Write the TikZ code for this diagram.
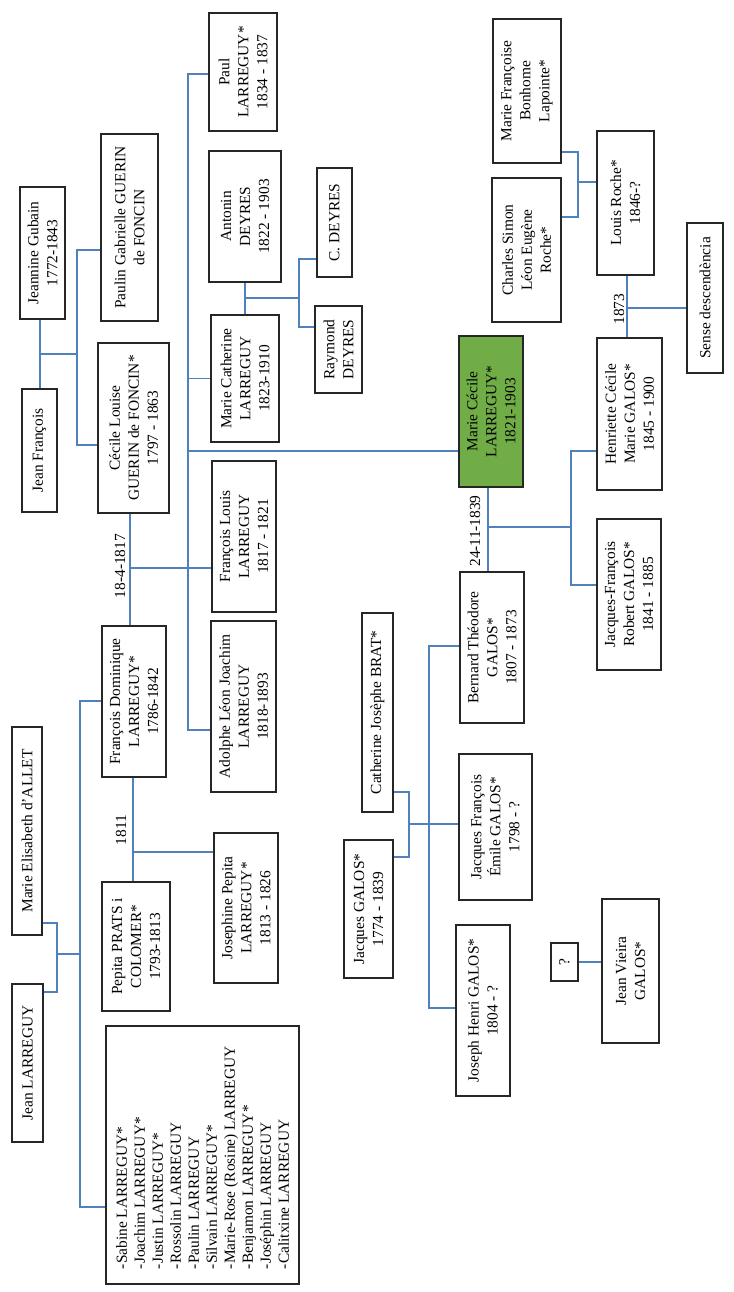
\documentclass[tikz,border=0pt]{standalone}
\usepackage{fontspec}
\setmainfont{Liberation Serif}
\definecolor{linkblue}{HTML}{4F81BD}
\definecolor{boxgreen}{HTML}{70AD47}
\begin{document}
\begin{tikzpicture}[x=1pt,y=-1pt,
  box/.style={draw=black!85, line width=1.3pt, rotate=90, align=center, inner sep=0pt,
    font=\fontsize{15.4}{19}\selectfont},
  sz/.style 2 args={minimum height=#1pt, minimum width=#2pt},
  link/.style={draw=linkblue, line width=1.1pt},
  lbl/.style={rotate=90, inner sep=0pt, font=\fontsize{15.4}{19}\selectfont}]
\fill[white] (0,0) rectangle (733,1292);
\useasboundingbox (0,0) rectangle (733,1292);

% nodes
\node[box, sz={45}{132}] (jeannine) at (42.5,253) {Jeannine Gubain\\1772-1843};
\node[box, sz={57}{187}] (paulin) at (129.5,227.5) {Paulin Gabrielle GUERIN\\de FONCIN};
\node[box, sz={68}{118}] (paul) at (243,72) {Paul\\LARREGUY*\\1834 - 1837};
\node[box, sz={72}{131}] (antonin) at (245,216.5) {Antonin\\DEYRES\\1822 - 1903};
\node[box, sz={35}{109}] (cdeyres) at (334.5,222.5) {C. DEYRES};
\node[box, sz={47}{87}] (raymond) at (338.5,349.5) {Raymond\\DEYRES};
\node[box, sz={68}{127}] (mcath) at (245,378.5) {Marie Catherine\\LARREGUY\\1823-1910};
\node[box, sz={35}{123}] (jeanf) at (39.5,450.5) {Jean François};
\node[box, sz={71}{170}] (cecile) at (133.5,428) {Cécile Louise\\GUERIN de FONCIN*\\1797 - 1863};
\node[box, sz={64}{151}] (flouis) at (244,536.5) {François Louis\\LARREGUY\\1817 - 1821};
\node[box, sz={64}{151}, fill=boxgreen] (mcecile) at (491,411.5) {Marie Cécile\\LARREGUY*\\1821-1903};
\node[box, sz={65}{152}] (henriette) at (629.5,414) {Henriette Cécile\\Marie GALOS*\\1845 - 1900};
\node[box, sz={64}{151}] (jfrobert) at (629,594.5) {Jacques-François\\Robert GALOS*\\1841 - 1885};
\node[box, sz={64}{151}] (bernard) at (492,647.5) {Bernard Théodore\\GALOS*\\1807 - 1873};
\node[box, sz={57}{144}] (louis) at (625.5,203) {Louis Roche*\\1846-?};
\node[box, sz={36}{150}] (sense) at (705,298) {Sense descendència};
\node[box, sz={69}{144}] (charles) at (526.5,250) {Charles Simon\\Léon Eugène\\Roche*};
\node[box, sz={68}{144}] (mfranc) at (527,91) {Marie Françoise\\Bonhome\\Lapointe*};
\node[box, sz={31}{199}] (catherine) at (377.5,712.5) {Catherine Josèphe BRAT*};
\node[box, sz={49}{138}] (jacques) at (368.5,909) {Jacques GALOS*\\1774 - 1839};
\node[box, sz={73}{146}] (jfemile) at (495.5,827) {Jacques François\\Émile GALOS*\\1798 - ?};
\node[box, sz={54}{171}] (joseph) at (483,1010.5) {Joseph Henri GALOS*\\1804 - ?};
\node[box, sz={27}{38}] (q) at (564.5,962) {?};
\node[box, sz={57}{144}] (vieira) at (630.5,971) {Jean Vieira\\GALOS*};
\node[box, sz={30}{208}] (melisa) at (27,831) {Marie Elisabeth d'ALLET};
\node[box, sz={31}{158}] (jeanl) at (27.5,1063) {Jean LARREGUY};
\node[box, sz={64}{151}] (fdom) at (134,701.5) {François Dominique\\LARREGUY*\\1786-1842};
\node[box, sz={68}{129}] (pepita) at (136,946.5) {Pepita PRATS i\\COLOMER*\\1793-1813};
\node[box, sz={64}{150}] (josephine) at (246,908) {Josephine Pepita\\LARREGUY*\\1813 - 1826};
\node[box, sz={65}{171}] (adolphe) at (243.5,706.5) {Adolphe Léon Joachim\\LARREGUY\\1818-1893};
\node[box, sz={193}{258}, align=left, font=\fontsize{15.4}{18}\selectfont] (list) at (202.5,1155) {%
\makebox[228pt][l]{\parbox{228pt}{-Sabine LARREGUY*\\
-Joachim LARREGUY*\\
-Justin LARREGUY*\\
-Rossolin LARREGUY\\
-Paulin LARREGUY\\
-Silvain LARREGUY*\\
-Marie-Rose (Rosine) LARREGUY\\
-Benjamon LARREGUY*\\
-Joséphin LARREGUY\\
-Calitxine LARREGUY}}};

% labels
\node[lbl] (l1817) at (120,566) {18-4-1817};
\node[lbl] (l1811) at (121,830) {1811};
\node[lbl] (l1873) at (619,309) {1873};
\node[lbl] (l1839) at (475,531) {24-11-1839};

% group A
\coordinate (cA) at (40,354);
\coordinate (cA2) at (77,354);
\coordinate (pA1) at (77,250);
\coordinate (pA2) at (77,445);
\draw[link] (cA |- jeannine.west) -- (cA |- jeanf.east);
\draw[link] (cA) -- (cA2);
\draw[link] (paulin.north |- pA1) -- (pA1) -- (pA2) -- (cecile.north |- pA2);

% group B
\coordinate (mB) at (130,568);
\coordinate (bB1) at (188,74);
\coordinate (bB2) at (188,730);
\coordinate (bB3) at (188,451);
\draw[link] (mB |- cecile.west) -- (mB |- fdom.east);
\draw[link] (mB) -- (flouis.north |- mB);
\draw[link] (paul.north |- bB1) -- (bB1) -- (bB2) -- (adolphe.north |- bB2);
\draw[link] (bB1 |- mcath.north) -- (mcath.north);
\draw[link] (bB3) -- (mcecile.north |- bB3);

% group C
\coordinate (mC) at (245,298);
\coordinate (bC1) at (299,259);
\coordinate (bC2) at (299,327);
\draw[link] (mC |- antonin.west) -- (mC |- mcath.east);
\draw[link] (mC) -- (bC1 |- mC);
\draw[link] (cdeyres.north |- bC1) -- (bC1) -- (bC2) -- (raymond.north |- bC2);

% group D
\coordinate (dD1) at (578,152);
\coordinate (dD2) at (578,217);
\coordinate (dD3) at (578,182);
\draw[link] (mfranc.south |- dD1) -- (dD1) -- (dD2) -- (charles.south |- dD2);
\draw[link] (dD3) -- (louis.north |- dD3);

% group E
\coordinate (mE) at (627,308);
\draw[link] (mE |- louis.west) -- (mE |- henriette.east);
\draw[link] (mE) -- (sense.north |- mE);

% group F
\coordinate (mF) at (488,527);
\coordinate (bF1) at (571,451);
\coordinate (bF2) at (571,585);
\draw[link] (mF |- mcecile.west) -- (mF |- bernard.east);
\draw[link] (mF) -- (bF1 |- mF);
\draw[link] (henriette.north |- bF1) -- (bF1) -- (bF2) -- (jfrobert.north |- bF2);

% group G
\coordinate (gG1) at (409,792);
\coordinate (gG2) at (409,857);
\coordinate (gG3) at (409,824);
\coordinate (bG1) at (429,646);
\coordinate (bG2) at (429,1008);
\draw[link] (catherine.south |- gG1) -- (gG1) -- (gG2) -- (jacques.south |- gG2);
\draw[link] (gG3) -- (jfemile.north |- gG3);
\draw[link] (bernard.north |- bG1) -- (bG1) -- (bG2) -- (joseph.north |- bG2);

% group H
\coordinate (hH1) at (57,923);
\coordinate (hH2) at (57,992);
\coordinate (hH3) at (57,954);
\coordinate (bH1) at (80,701);
\coordinate (bH2) at (80,1207);
\coordinate (bH3) at (80,954);
\draw[link] (melisa.south |- hH1) -- (hH1) -- (hH2) -- (jeanl.south |- hH2);
\draw[link] (hH3) -- (bH3);
\draw[link] (fdom.north |- bH1) -- (bH1) -- (bH2) -- (list.north |- bH2);

% group I
\coordinate (mI) at (133,852);
\draw[link] (mI |- fdom.west) -- (mI |- pepita.east);
\draw[link] (mI) -- (josephine.north |- mI);

% group J
\draw[link] (q.south) -- (vieira.north |- q.south);
\end{tikzpicture}
\end{document}
